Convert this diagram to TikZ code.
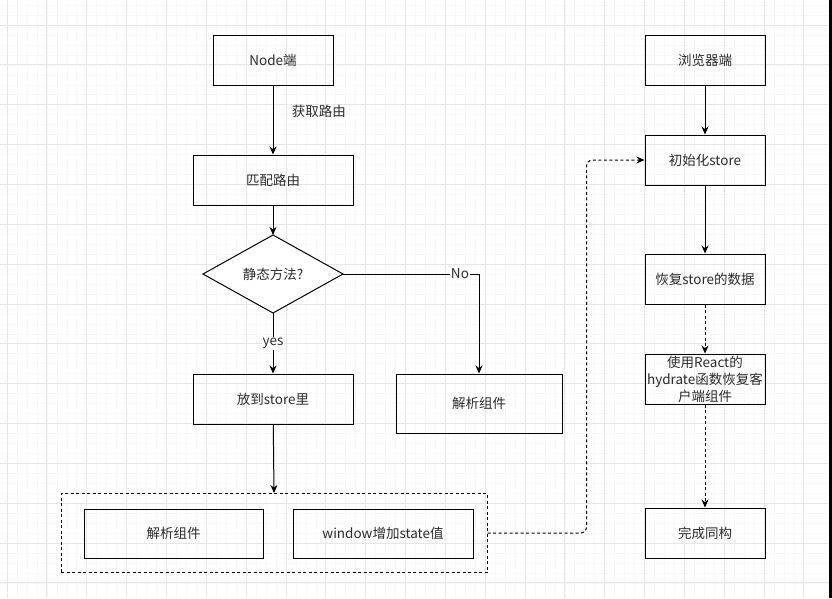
\documentclass[tikz,border=0pt]{standalone}
\usepackage{fontspec}
\setmainfont{Noto Sans CJK SC}
\usetikzlibrary{arrows.meta, positioning}

\definecolor{txt}{HTML}{2B2B2B}
\definecolor{gridminor}{HTML}{F7F7F7}
\definecolor{gridmajor}{HTML}{E6E6E6}

\begin{document}
\begin{tikzpicture}[x=1pt, y=-1pt,
  every node/.style={font=\fontsize{13.5}{17}\selectfont, text=txt},
  box/.style={draw, line width=1pt, minimum width=120pt, minimum height=50pt, inner sep=0pt},
  widebox/.style={box, minimum width=160pt},
  groupbox/.style={draw, dash pattern=on 3pt off 2.5pt, line width=1pt, minimum width=426pt, minimum height=79pt, inner sep=0pt},
  arrow/.style={-{Stealth[length=8pt, width=7pt]}, line width=1pt},
  dasharrow/.style={arrow, dash pattern=on 3pt off 2.5pt}]

  % background grid
  \useasboundingbox (0,0) rectangle (832,598);
  \fill[white] (0,0) rectangle (832,598);
  \foreach \k in {0,...,83} \draw[gridminor, line width=0.5pt] (7+\k*9.96-39.84,0) -- ++(0,598);
  \foreach \k in {0,...,60} \draw[gridminor, line width=0.5pt] (0,25+\k*9.96-39.84) -- ++(832,0);
  \foreach \k in {0,...,20} \draw[gridmajor, line width=0.7pt] (7+\k*39.84,0) -- ++(0,598);
  \foreach \k in {-1,...,15} \draw[gridmajor, line width=0.7pt] (0,25+\k*39.84) -- ++(832,0);
  \fill[black] (829,0) rectangle (832,598);

  % server side
  \node[box] (node) at (273,60) {Node端};
  \node[widebox] (match) at (273,180) {匹配路由};
  \draw[line width=1pt, fill=white] (203,274) -- (273,235) -- (343,274) -- (273,313) -- cycle;
  \node (static) at (273,274) {静态方法?};
  \coordinate (staticN) at (273,235);
  \coordinate (staticE) at (343,274);
  \coordinate (staticS) at (273,313);
  \node[widebox] (store) at (273,399) {放到store里};
  \node[box, minimum width=166pt, minimum height=59pt] (parseR) at (479,403.5) {解析组件};

  % dashed group
  \node[groupbox] (grp) at (274,533) {};
  \node[box, minimum width=179pt, minimum height=49pt] (parseL) at (173.5,533.5) {解析组件};
  \node[box, minimum width=180pt, minimum height=49pt] (win) at (383,533.5) {window增加state值};

  % browser side
  \node[box] (browser) at (705,60) {浏览器端};
  \node[box] (init) at (705,160) {初始化store};
  \node[box] (restore) at (705,279) {恢复store的数据};
  \node[box, align=center] (hydrate) at (705,379) {使用React的\\hydrate函数恢复客\\户端组件};
  \node[box] (done) at (705,533) {完成同构};

  % connectors
  \draw[arrow] (node) -- node[pos=0.37, right=15pt] {获取路由} (match);
  \draw[arrow] (match) -- (staticN);
  \draw[arrow] (staticE) -| node[pos=0.43, fill=white, inner sep=1pt] {No} (parseR.north);
  \draw[arrow] (staticS) -- node[fill=white, inner sep=1pt] {yes} (store);
  \draw[arrow] (store) -- (grp.north);
  \draw[dasharrow, rounded corners=6pt] (grp.east) -- ++(99,0) |- (init.west);
  \draw[arrow] (browser) -- (init);
  \draw[arrow] (init) -- (restore);
  \draw[dasharrow] (restore) -- (hydrate);
  \draw[dasharrow] (hydrate) -- (done);

\end{tikzpicture}
\end{document}
